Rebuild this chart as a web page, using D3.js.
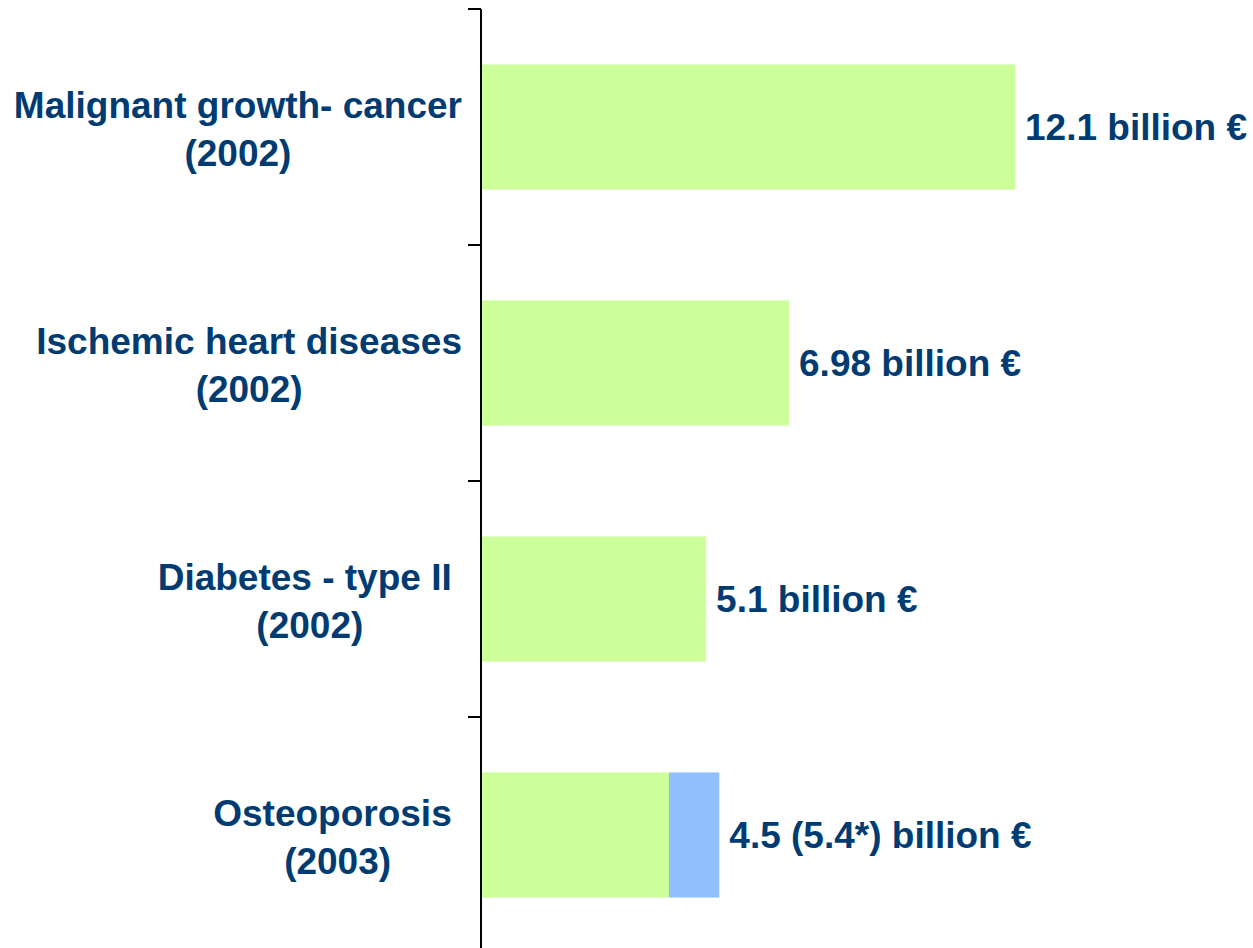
<!DOCTYPE html>
<html>
<head>
<meta charset="utf-8">
<style>
  body { margin: 0; background: #fff; }
  .cat, .val { font-family: "Liberation Sans", Arial, sans-serif; font-weight: bold; fill: #003c71; white-space: pre; }
  .cat { font-size: 37px; }
  .val { font-size: 37px; }
</style>
</head>
<body>
<div id="chart"></div>
<script src="https://cdn.jsdelivr.net/npm/d3@7"></script>
<script>
// data
var categories = ["Malignant growth- cancer", "Ischemic heart diseases", "Diabetes - type II ", "Osteoporosis "];
var years = ["(2002)", "(2002)", "(2002)", "(2003)"];
var mainValues = [12.1, 6.98, 5.1, 4.26];
var extraValues = [0, 0, 0, 1.14];
var valueLabels = ["12.1 billion €", "6.98 billion €", "5.1 billion €", "4.5 (5.4*) billion €"];

var width = 1253, height = 948;
var axisX = 481, labelRight = 462;

var svg = d3.select("#chart").append("svg")
    .attr("width", width)
    .attr("height", height);

var x = d3.scaleLinear().domain([0, 12.1]).range([axisX, 1015]);

// bands for the bars, and a plain band scale for the tick marks
var y = d3.scaleBand().domain(categories).range([9, 953])
    .paddingInner(0.47).paddingOuter(0.235);
var yTicks = d3.scaleBand().domain(categories).range([9, 953]);

// bars
svg.selectAll("rect.main")
  .data(categories)
  .enter().append("rect")
    .attr("class", "main")
    .attr("x", x(0))
    .attr("y", d => y(d))
    .attr("width", (d, i) => x(mainValues[i]) - x(0))
    .attr("height", y.bandwidth())
    .attr("fill", "#ccff99");

svg.selectAll("rect.extra")
  .data(categories)
  .enter().append("rect")
    .attr("class", "extra")
    .attr("x", (d, i) => x(mainValues[i]))
    .attr("y", d => y(d))
    .attr("width", (d, i) => x(mainValues[i] + extraValues[i]) - x(mainValues[i]))
    .attr("height", y.bandwidth())
    .attr("fill", "#8fbfff");

// axis line and ticks
svg.append("line")
    .attr("x1", axisX).attr("x2", axisX)
    .attr("y1", 9).attr("y2", height)
    .attr("stroke", "#000").attr("stroke-width", 2);

svg.selectAll("line.tick")
  .data(categories)
  .enter().append("line")
    .attr("class", "tick")
    .attr("x1", axisX - 13).attr("x2", axisX)
    .attr("y1", d => yTicks(d)).attr("y2", d => yTicks(d))
    .attr("stroke", "#000").attr("stroke-width", 2);

// category labels: two centred lines, block right-aligned to the axis
categories.forEach(function (c, i) {
  var cy = y(c) + y.bandwidth() / 2;
  var t1 = svg.append("text").attr("class", "cat")
      .attr("y", cy - 9)
      .attr("text-anchor", "middle")
      .text(c);
  var w = t1.node().getComputedTextLength();
  var cx = labelRight - w / 2;
  t1.attr("x", cx);
  svg.append("text").attr("class", "cat")
      .attr("x", cx)
      .attr("y", cy + 39)
      .attr("text-anchor", "middle")
      .text(years[i]);
});

// value labels
svg.selectAll("text.val")
  .data(categories)
  .enter().append("text")
    .attr("class", "val")
    .attr("x", (d, i) => x(mainValues[i] + extraValues[i]) + 10)
    .attr("y", d => y(d) + y.bandwidth() / 2 + 13)
    .text((d, i) => valueLabels[i]);
</script>
</body>
</html>
